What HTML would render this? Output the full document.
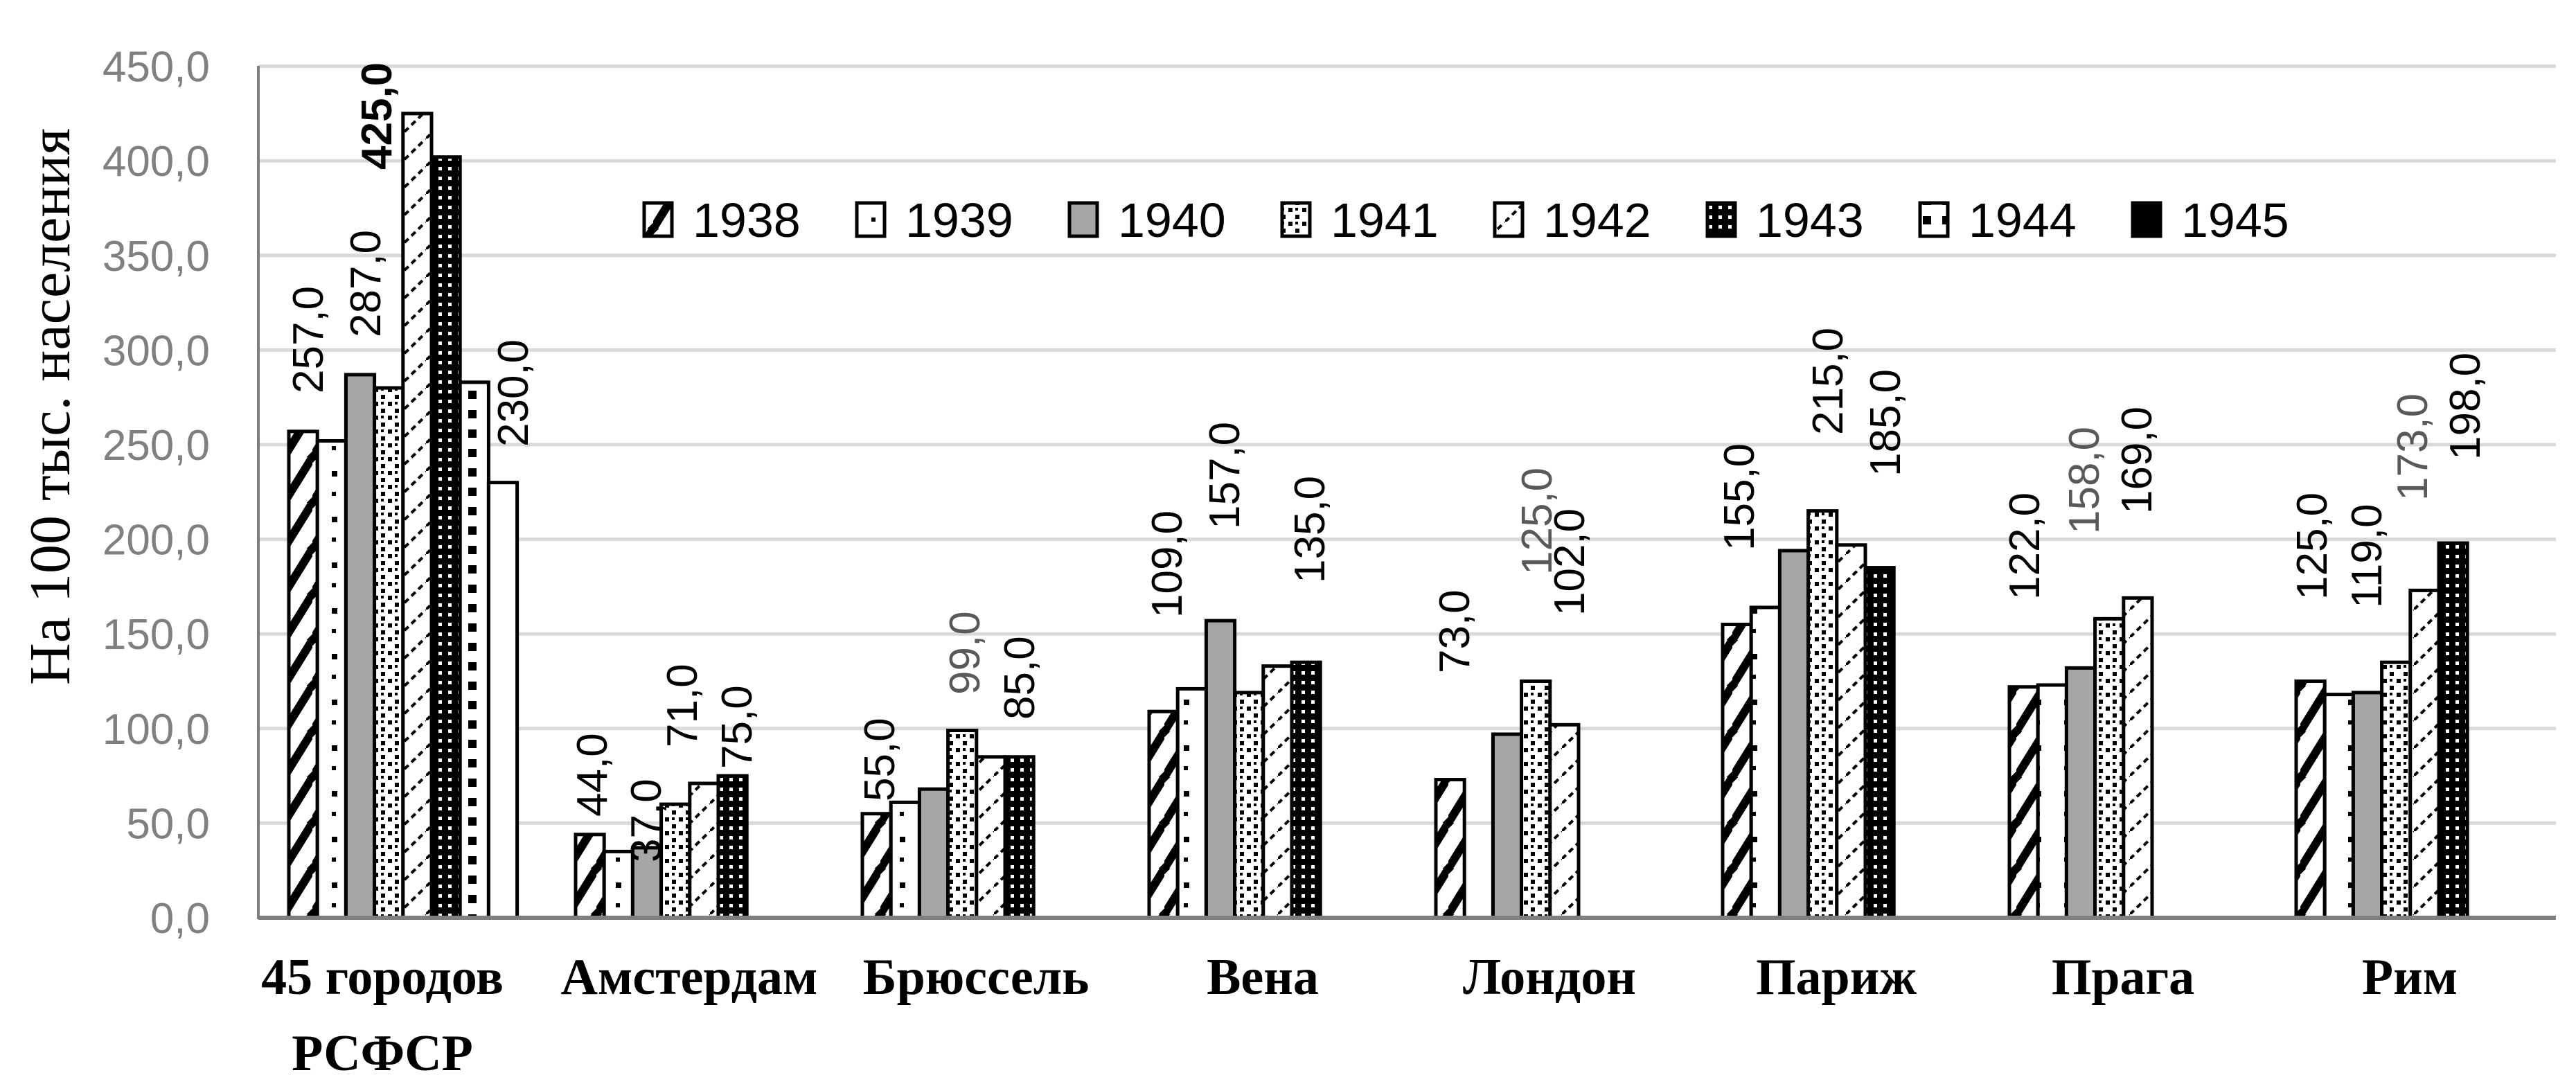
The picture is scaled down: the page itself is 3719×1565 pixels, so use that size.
<!DOCTYPE html>
<html><head><meta charset="utf-8"><style>
html,body{margin:0;padding:0;background:#fff;}
svg{display:block}
</style></head><body>
<svg id="c" width="3719" height="1565" xmlns="http://www.w3.org/2000/svg">
<defs>
<pattern id="p0" width="41" height="66" patternUnits="userSpaceOnUse"><rect width="41" height="66" fill="#fff"/><path d="M0 66 L41 0" stroke="#000" stroke-width="12"/><path d="M-10 10 L10 -10 M31 76 L51 56" stroke="#000" stroke-width="12"/></pattern>
<pattern id="p1" width="41" height="66" patternUnits="userSpaceOnUse"><rect width="41" height="66" fill="#fff"/><rect x="28" y="20" width="8" height="8" fill="#000"/><rect x="28" y="50" width="6" height="6" fill="#000"/></pattern>
<pattern id="p3" width="20" height="20" patternUnits="userSpaceOnUse"><rect width="20" height="20" fill="#fff"/><rect x="0" y="0" width="6" height="6" fill="#000"/><rect x="10" y="10" width="6" height="6" fill="#000"/><rect x="10" y="0" width="4" height="4" fill="#000"/></pattern>
<pattern id="p4" width="41" height="40" patternUnits="userSpaceOnUse"><rect width="41" height="40" fill="#fff"/><path d="M0 40 L41 0" stroke="#000" stroke-width="4" stroke-dasharray="8 6"/></pattern>
<pattern id="p5" width="14" height="14" patternUnits="userSpaceOnUse"><rect width="14" height="14" fill="#000"/><rect x="3" y="3" width="5" height="5" fill="#fff"/></pattern>
<pattern id="p6" width="28" height="28" patternUnits="userSpaceOnUse"><rect width="28" height="28" fill="#fff"/><rect x="4" y="4" width="12" height="12" fill="#000"/></pattern>
</defs>
<g id="grid"></g>
<g id="bars"></g>
<g id="labs" font-family="Liberation Sans, sans-serif" font-size="62"></g>
<line x1="373" y1="1325" x2="3690" y2="1325" stroke="#7f7f7f" stroke-width="6"/>
<line x1="373" y1="95" x2="373" y2="1327" stroke="#7f7f7f" stroke-width="4"/>
<text transform="translate(100,587) rotate(-90)" text-anchor="middle" font-family="Liberation Serif, serif" font-size="84">На 100 тыс. населения</text>
<g font-family="Liberation Serif, serif" font-weight="bold" font-size="74" text-anchor="middle">
<text x="552" y="1435">45 городов</text><text x="552" y="1545">РСФСР</text>
<text x="995" y="1435">Амстердам</text>
<text x="1409" y="1435">Брюссель</text>
<text x="1823" y="1435">Вена</text>
<text x="2237" y="1435">Лондон</text>
<text x="2651" y="1435">Париж</text>
<text x="3065" y="1435">Прага</text>
<text x="3479" y="1435">Рим</text>
</g>
<g id="leg" font-family="Liberation Sans, sans-serif" font-size="70"></g>
</svg>
<script>
var ns="http://www.w3.org/2000/svg";
function el(p,t,a,txt){var e=document.createElementNS(ns,t);for(var k in a)e.setAttribute(k,a[k]);if(txt)e.textContent=txt;document.getElementById(p).appendChild(e);return e;}
var Y0=1325,S=2.732;
for(var i=0;i<=9;i++){var y=Y0-i*50*S;
 if(i>0)el('grid','line',{x1:373,y1:y,x2:3690,y2:y,stroke:'#d9d9d9','stroke-width':5});
 el('grid','text',{x:303,y:y+22,'text-anchor':'end','font-family':'Liberation Sans, sans-serif','font-size':62,fill:'#808080'},(i*50)+',0');}
var fills=['url(#p0)','url(#p1)','#a6a6a6','url(#p3)','url(#p4)','url(#p5)','url(#p6)','#fff'];
var data=[
 [[0,257],[1,252],[2,287],[3,280],[4,425],[5,402],[6,283],[7,230]],
 [[0,44],[1,35],[2,37],[3,60],[4,71],[5,75]],
 [[0,55],[1,61],[2,68],[3,99],[4,85],[5,85]],
 [[0,109],[1,121],[2,157],[3,119],[4,133],[5,135]],
 [[0,73],[2,97],[3,125],[4,102]],
 [[0,155],[1,164],[2,194],[3,215],[4,197],[5,185]],
 [[0,122],[1,123],[2,132],[3,158],[4,169]],
 [[0,125],[1,118],[2,119],[3,135],[4,173],[5,198]]];
for(var g=0;g<8;g++){var x0=417+g*414;
 data[g].forEach(function(d){var h=d[1]*S;el('bars','rect',{x:x0+d[0]*41.2,y:Y0-h,width:41.2,height:h,fill:fills[d[0]],stroke:'#000','stroke-width':5});});}
var L=[[444,568,'257,0'],[527,487,'287,0'],[543,245,'425,0',0,1],[740,645,'230,0'],
[854,1179,'44,0'],[932,1245,'37,0'],[984,1079,'71,0'],[1063,1110,'75,0'],
[1269,1157,'55,0'],[1392,1003,'99,0',1],[1471,1039,'85,0'],
[1684,892,'109,0'],[1767,764,'157,0'],[1890,842,'135,0'],
[2099,972,'73,0'],[2218,830,'125,0',1],[2265,889,'102,0'],
[2510,795,'155,0'],[2638,628,'215,0'],[2721,688,'185,0'],
[2922,866,'122,0'],[3008,771,'158,0',1],[3084,742,'169,0'],
[3337,866,'125,0'],[3416,878,'119,0'],[3482,723,'173,0',1],[3558,664,'198,0']];
L.forEach(function(l){el('labs','text',{transform:'translate('+(l[0]+22)+','+l[1]+') rotate(-90)',fill:l[3]?'#595959':'#000','font-weight':l[4]?'bold':'normal'},l[2]);});
var yrs=['1938','1939','1940','1941','1942','1943','1944','1945'];
var lf=['url(#p0)','url(#p1)','#a6a6a6','url(#p3)','url(#p4)','url(#p5)','url(#p6)','#000'];
for(var i=0;i<8;i++){var x=930+i*307;
 el('leg','rect',{x:x,y:293,width:40,height:48,fill:lf[i],stroke:'#000','stroke-width':5});
 el('leg','text',{x:x+70,y:342},yrs[i]);}
</script>
</body></html>
